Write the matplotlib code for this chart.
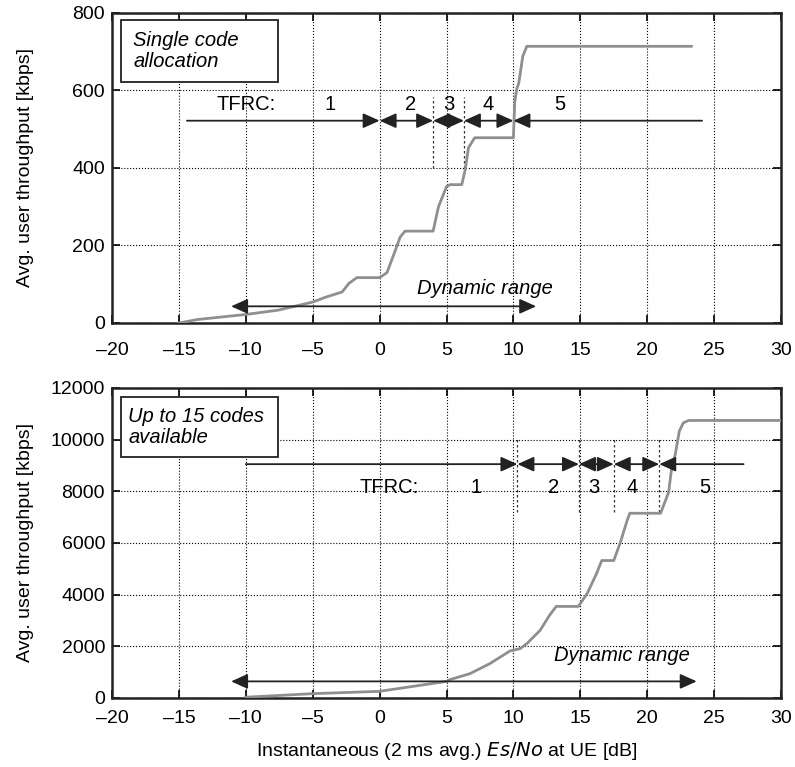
import numpy as np
import matplotlib.pyplot as plt
from matplotlib.patches import Rectangle

plt.rcParams['font.family'] = ['Liberation Sans', 'DejaVu Sans']
plt.rcParams['font.size'] = 14

# single code allocation curve
x_top = [-15, -13.6, -10, -7.6, -5, -4, -2.8, -2.3, -1.7, 0, 0.55, 1.17, 1.54, 1.9, 4.0, 4.4,
         5.0, 5.27, 6.14, 6.4, 6.64, 7.1, 10.0, 10.1, 10.25, 10.4, 10.7, 11.0, 23.3]
y_top = [0, 9, 22, 33, 54, 67, 80, 102, 117, 117, 130, 187, 222, 237, 237, 300,
         352, 357, 357, 396, 452, 478, 478, 570, 604, 619, 688, 714, 714]

# up to 15 codes curve
x_bot = [-10, -5, 0, 5, 5.25, 6.75, 8.24, 9.74, 10.5, 11.0, 12.0, 12.7, 13.2, 14.85, 15.5, 16.2,
         16.6, 17.5, 18.0, 18.5, 18.7, 21.0, 21.6, 21.8, 22.1, 22.4, 22.7, 23.1, 30]
y_bot = [30, 167, 257, 642, 710, 940, 1330, 1820, 1910, 2100, 2620, 3200, 3544, 3544, 4030, 4800,
         5320, 5320, 6030, 6870, 7150, 7150, 7960, 8790, 9433, 10330, 10650, 10742, 10742]

# TFRC boundaries
tfrc_top = [0, 4.0, 6.3, 10.0]
tfrc_bot = [10.3, 14.9, 17.5, 20.9]
tfrc_labels = ['1', '2', '3', '4', '5']
lab_x_top = [-3.7, 2.3, 5.2, 8.1, 13.5]
lab_x_bot = [7.2, 13.0, 16.0, 18.9, 24.3]


def arrow(ax, x0, x1, y, style):
    ax.annotate('', xy=(x1, y), xytext=(x0, y),
                arrowprops=dict(arrowstyle=style + ',head_length=1.0,head_width=0.45',
                                color='#222222', lw=1.3, shrinkA=0, shrinkB=0,
                                mutation_scale=10))


def tfrc_line(ax, start, end, bounds, y):
    pts = [start] + bounds + [end]
    for i in range(len(pts) - 1):
        if i == 0:
            st = '-|>'
        elif i == len(pts) - 2:
            st = '<|-'
        else:
            st = '<|-|>'
        arrow(ax, pts[i], pts[i + 1], y, st)


def setup(ax, ymax, ystep, xpad):
    ax.set_xlim(-20, 30)
    ax.set_ylim(0, ymax)
    ax.set_xticks(np.arange(-20, 31, 5))
    ax.set_yticks(np.arange(0, ymax + 1, ystep))
    ax.set_xticklabels([str(v).replace('-', '\u2013') for v in range(-20, 31, 5)])
    ax.grid(True, linestyle=':', color='black', lw=0.8)
    ax.tick_params(direction='in', length=6, top=True, right=True, width=1.2, labelsize=14)
    ax.tick_params(axis='x', pad=xpad)
    ax.tick_params(axis='y', pad=5)
    for s in ax.spines.values():
        s.set_linewidth(1.8)
        s.set_color('#222222')
    ax.set_ylabel('Avg. user throughput [kbps]', fontsize=14)
    ax.yaxis.set_label_coords(-0.117, 0.5)


fig = plt.figure(figsize=(7.95, 7.67), dpi=100)
ax1 = fig.add_axes([0.1409, 0.5789, 0.8415, 0.4042])
ax2 = fig.add_axes([0.1409, 0.0900, 0.8415, 0.4042])

# top panel
setup(ax1, 800, 200, 14)
ax1.plot(x_top, y_top, color='#8f8f8f', lw=2, zorder=3)
tfrc_line(ax1, -14.4, 24.1, tfrc_top, 522)
for xb in [4.0, 6.3]:
    ax1.plot([xb, xb], [400, 584], color='#333333', lw=0.9, linestyle=(0, (2, 2)))
ax1.text(-10.0, 563, 'TFRC:', ha='center', va='center', fontsize=14.5)
for lx, lb in zip(lab_x_top, tfrc_labels):
    ax1.text(lx, 563, lb, ha='center', va='center', fontsize=14.5)
arrow(ax1, -11.1, 11.7, 43, '<|-|>')
ax1.text(7.9, 89, 'Dynamic range', ha='center', va='center', fontsize=14.5, style='italic')
ax1.add_patch(Rectangle((-19.3, 623), 11.7, 158, facecolor='white', edgecolor='#222222', lw=1.3, zorder=4))
ax1.text(-18.4, 702, 'Single code\nallocation', ha='left', va='center', fontsize=14.5,
         style='italic', linespacing=1.15, zorder=5)

# bottom panel
setup(ax2, 12000, 2000, 9)
ax2.plot(x_bot, y_bot, color='#8f8f8f', lw=2, zorder=3)
tfrc_line(ax2, -10, 27.2, tfrc_bot, 9050)
for xb in tfrc_bot:
    ax2.plot([xb, xb], [7190, 10075], color='#333333', lw=0.9, linestyle=(0, (2, 2)))
ax2.text(0.7, 8150, 'TFRC:', ha='center', va='center', fontsize=14.5)
for lx, lb in zip(lab_x_bot, tfrc_labels):
    ax2.text(lx, 8150, lb, ha='center', va='center', fontsize=14.5)
arrow(ax2, -11.1, 23.7, 642, '<|-|>')
ax2.text(18.1, 1630, 'Dynamic range', ha='center', va='center', fontsize=14.5, style='italic')
ax2.add_patch(Rectangle((-19.3, 9330), 11.7, 2310, facecolor='white', edgecolor='#222222', lw=1.3, zorder=4))
ax2.text(-18.8, 10485, 'Up to 15 codes\navailable', ha='left', va='center', fontsize=14.5,
         style='italic', linespacing=1.15, zorder=5)
ax2.set_xlabel('Instantaneous (2 ms avg.) $\\it{Es/No}$ at UE [dB]', fontsize=14)
ax2.xaxis.set_label_coords(0.5, -0.135)

fig.savefig('out.png', dpi=100)
